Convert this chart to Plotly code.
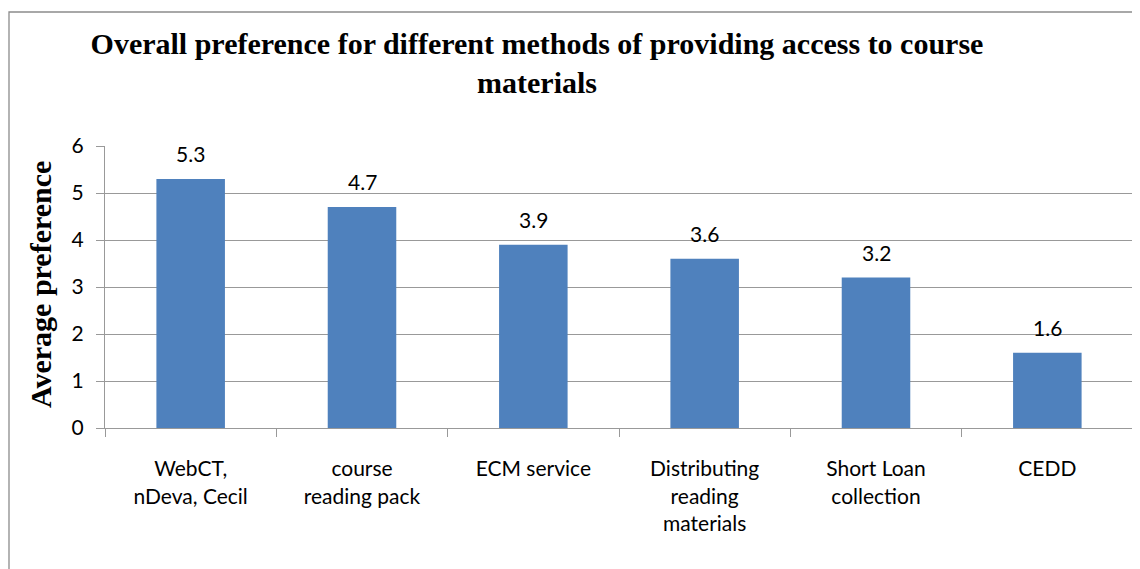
import plotly.graph_objects as go

categories = ["WebCT,<br>nDeva, Cecil", "course<br>reading pack", "ECM service",
              "Distributing<br>reading<br>materials", "Short Loan<br>collection", "CEDD"]
values = [5.3, 4.7, 3.9, 3.6, 3.2, 1.6]
value_labels = ["5.3", "4.7", "3.9", "3.6", "3.2", "1.6"]
y_ticks = [0, 1, 2, 3, 4, 5, 6]

# page body has an 8px margin, so the figure is offset by (8, 8) in the window
OFF = 8
W, H = 1140 - OFF, 569 - OFF
L, R, T, B = 105 - OFF, 7, 146 - OFF, 141
pw, ph = W - L - R, H - T - B

fig = go.Figure()
fig.add_trace(go.Bar(x=categories, y=values, marker=dict(color="#4F81BD", line=dict(width=0)),
                     width=0.4, showlegend=False, hoverinfo="x+y"))

for c, v, t in zip(categories, values, value_labels):
    fig.add_annotation(x=c, y=v, text=t, showarrow=False, yanchor="bottom", yshift=11,
                       font=dict(family="Lato", size=21, color="black"))

fig.add_annotation(text="<b>Average preference</b>", textangle=-90, xref="paper", yref="paper",
                   x=(40 - OFF - L) / pw, y=(H - B - (285 - OFF)) / ph, showarrow=False,
                   xanchor="center", yanchor="middle",
                   font=dict(family="Liberation Serif", size=30, color="black"))

# chart border
fig.add_shape(type="rect", xref="paper", yref="paper",
              x0=(9 - OFF - L) / pw, x1=(W + 20 - L) / pw, y0=-(B + 20) / ph, y1=(H - B - (12 - OFF)) / ph,
              line=dict(color="#8c8c8c", width=1.3), fillcolor="rgba(0,0,0,0)", layer="below")

fig.update_layout(
    width=W, height=H,
    margin=dict(l=L, r=R, t=T, b=B, autoexpand=False),
    paper_bgcolor="white", plot_bgcolor="white",
    title=dict(text="<b>Overall preference for different methods of providing access to course<br>materials</b>",
               x=(537 - OFF) / W, xanchor="center", xref="container", yref="container",
               y=1 - 46 / H, yanchor="top",
               font=dict(family="Liberation Serif", size=30, color="black")),
    xaxis=dict(type="category", showline=True, linecolor="#999999", linewidth=1.3,
               ticks="outside", tickson="boundaries", ticklen=8, tickcolor="#999999",
               tickfont=dict(family="Lato", size=21, color="black"), ticklabelstandoff=22,
               showgrid=False, automargin=False),
    yaxis=dict(range=[0, 6], tickvals=y_ticks, showline=True, linecolor="#999999", linewidth=1.3,
               ticks="outside", ticklen=8, tickcolor="#999999",
               showgrid=True, gridcolor="#999999", gridwidth=1.3, zeroline=False,
               tickfont=dict(family="Lato", size=21, color="black"), ticklabelstandoff=8,
               automargin=False),
    bargap=0.6,
)

fig.write_html("out.html")
